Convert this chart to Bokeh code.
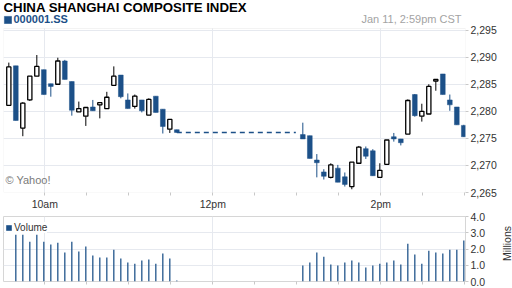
import math
from bokeh.plotting import figure
from bokeh.layouts import column, row
from bokeh.models import (ColumnDataSource, FixedTicker, NumeralTickFormatter, Range1d,
                          Label, Legend, LegendItem, BoxAnnotation)
from bokeh.transform import dodge
from bokeh.embed import file_html
from bokeh.resources import INLINE

# ---------------- data ----------------
title = "CHINA SHANGHAI COMPOSITE INDEX"
symbol = "000001.SS"
stamp = "Jan 11, 2:59pm CST"
credit = "© Yahoo!"
volume_label = "Volume"
unit_label = "Millions"

times = ["09:35", "09:40", "09:45", "09:50", "09:55", "10:00", "10:05", "10:10", "10:15", "10:20",
         "10:25", "10:30", "10:35", "10:40", "10:45", "10:50", "10:55", "11:00", "11:05", "11:10",
         "11:15", "11:20", "11:25", "11:30", "11:35",
         "13:05", "13:10", "13:15", "13:20", "13:25", "13:30", "13:35", "13:40", "13:45", "13:50",
         "13:55", "14:00", "14:05", "14:10", "14:15", "14:20", "14:25", "14:30", "14:35", "14:40",
         "14:45", "14:50", "14:55", "15:00"]
opens = [2281.1, 2288.4, 2276.9, 2282.1, 2286.5, 2287.7, 2285.1, 2285.0, 2289.3, 2285.5,
         2279.9, 2279.1, 2280.8, 2281.2, 2280.5, 2284.8, 2286.7, 2282.1, 2280.9, 2282.1,
         2279.3, 2282.8, 2280.4, 2276.7, 2276.6,
         2275.7, 2275.5, 2271.0, 2268.8, 2267.8, 2269.5, 2267.9, 2266.1, 2270.4, 2273.1,
         2272.7, 2267.8, 2270.2, 2275.3, 2274.9, 2275.8, 2283.1, 2279.1, 2279.5, 2285.6,
         2286.9, 2282.1, 2280.8, 2277.4]
highs = [2289.0, 2288.4, 2281.7, 2286.5, 2290.4, 2287.7, 2285.1, 2289.9, 2289.5, 2285.5,
         2281.8, 2280.8, 2282.1, 2281.6, 2283.6, 2288.3, 2286.7, 2283.3, 2283.1, 2282.1,
         2282.4, 2282.8, 2280.4, 2278.5, 2276.6,
         2277.9, 2275.5, 2272.1, 2269.3, 2270.4, 2270.1, 2268.7, 2270.6, 2273.6, 2273.5,
         2273.0, 2270.4, 2274.7, 2276.0, 2274.9, 2282.2, 2283.2, 2281.4, 2285.0, 2285.9,
         2286.9, 2283.1, 2280.8, 2277.5]
lows = [2281.1, 2278.3, 2275.4, 2281.9, 2286.5, 2283.1, 2282.7, 2285.0, 2285.9, 2279.2,
        2279.9, 2277.3, 2280.1, 2278.7, 2280.5, 2284.8, 2282.4, 2280.5, 2280.5, 2279.8,
        2279.3, 2279.8, 2275.9, 2276.0, 2276.1,
        2274.9, 2271.3, 2267.8, 2267.4, 2267.6, 2266.9, 2266.1, 2265.6, 2270.4, 2271.2,
        2268.1, 2267.8, 2270.2, 2274.4, 2273.7, 2275.8, 2279.0, 2278.1, 2279.5, 2283.8,
        2283.1, 2280.1, 2277.5, 2275.3]
closes = [2288.2, 2278.3, 2281.5, 2286.5, 2288.3, 2283.1, 2284.6, 2289.3, 2285.9, 2280.2,
          2280.5, 2280.7, 2280.1, 2281.6, 2282.6, 2286.5, 2282.7, 2280.5, 2282.8, 2280.1,
          2282.2, 2279.8, 2277.2, 2278.5, 2276.1,
          2274.9, 2271.3, 2270.5, 2268.0, 2270.1, 2266.9, 2266.5, 2270.6, 2273.4, 2271.7,
          2268.1, 2269.1, 2274.7, 2274.9, 2274.2, 2282.0, 2279.2, 2280.0, 2284.6, 2285.9,
          2283.1, 2281.2, 2277.5, 2275.3]
volumes = [0.0, 2.88, 2.88, 2.45, 2.88, 2.45, 2.27, 2.39, 1.78, 2.45,
           1.84, 2.15, 1.60, 1.47, 1.47, 1.96, 1.41, 1.17, 1.10, 1.29,
           1.35, 1.10, 1.72, 1.41, 0.06,
           0.98, 1.17, 1.78, 1.53, 1.04, 0.98, 1.17, 1.29, 1.17, 0.86,
           0.98, 1.10, 1.17, 1.29, 1.04, 2.33, 1.66, 1.10, 1.90, 1.78,
           1.72, 1.96, 1.96, 2.52]
lunch_end = "13:00"

session = ["09:30", "15:00"]
major_times = ["10:00", "12:00", "14:00"]
major_labels = ["10am", "12pm", "2pm"]
minor_times = ["09:30", "10:30", "11:00", "11:30", "12:30", "13:00", "13:30", "14:30", "15:00"]
price_ticks = [2265, 2270, 2275, 2280, 2285, 2290, 2295]
price_span = [2265, 2295.3]
volume_ticks = [0, 1, 2, 3, 4]

# ---------------- styling ----------------
BLUE = "#1c5088"
GRID = "#e6e9ef"
BORDER = "#d6d6d6"
TICK = "#c8c8c8"
FONT = "Liberation Sans"
LABEL_COLOR = "#333333"
HEADER_PX = 28
PRICE_PX = 164
TOP_PX = HEADER_PX + PRICE_PX


def to_min(s):
    return int(s[:2]) * 60 + int(s[3:])


t = [to_min(s) for s in times]
up = [c >= o for o, c in zip(opens, closes)]

src_all = ColumnDataSource(dict(
    t=t, low=lows, high=highs,
    wick=["#000000" if u else BLUE for u in up],
))
src_up = ColumnDataSource(dict(
    t=[ti for ti, u in zip(t, up) if u],
    top=[c for c, u in zip(closes, up) if u],
    bottom=[o for o, u in zip(opens, up) if u],
))
src_dn = ColumnDataSource(dict(
    t=[ti for ti, u in zip(t, up) if not u],
    top=[o for o, u in zip(opens, up) if not u],
    bottom=[c for c, u in zip(closes, up) if not u],
))
src_vol = ColumnDataSource(dict(t=t, vol=volumes))
src_gap = ColumnDataSource(dict(t=[t[24], to_min(lunch_end)], y=[closes[24], closes[24]]))

x_range = Range1d(to_min(session[0]) + 0.5, to_min(session[1]) + 0.5)
# the frame of the price figure also holds the header strip above the price area
y_top = price_span[1] + HEADER_PX * (price_span[1] - price_span[0]) / PRICE_PX
y_range = Range1d(price_span[0], y_top)

major = [to_min(s) for s in major_times]
minor = [to_min(s) for s in minor_times]

# ---------------- price panel (with header) ----------------
p1 = figure(width=512, height=TOP_PX + 20, x_range=x_range, y_range=y_range,
            title=None, output_backend="svg", toolbar_location=None, y_axis_location="right",
            min_border_left=3, min_border_right=47, min_border_top=0, min_border_bottom=20)
p1.outline_line_color = None

xd = dodge("t", -0.7, range=x_range)
p1.segment(x0=xd, y0="low", x1=xd, y1="high", line_color="wick", line_width=1, source=src_all)
dn = p1.vbar(x=xd, width=3.4, top="top", bottom="bottom", fill_color=BLUE,
             line_color=BLUE, line_width=0.5, source=src_dn)
p1.vbar(x=xd, width=3.0, top="top", bottom="bottom", fill_color="white",
        line_color="black", line_width=1.3, source=src_up)
p1.line(x=xd, y="y", line_color=BLUE, line_width=1.5, line_dash="5 4", source=src_gap)

p1.add_layout(BoxAnnotation(left=x_range.start, right=x_range.end,
                            bottom=price_span[0], top=price_span[1],
                            fill_alpha=0, line_color=BORDER, line_width=1, level="underlay"))

p1.xaxis.ticker = FixedTicker(ticks=major, minor_ticks=minor)
p1.xaxis.major_label_overrides = {m: l for m, l in zip(major, major_labels)}
p1.xgrid.cross_bounds = (price_span[0], price_span[1])
p1.yaxis.ticker = FixedTicker(ticks=price_ticks)
p1.yaxis.formatter = NumeralTickFormatter(format="0,0")

p1.add_layout(Label(x=0, y=TOP_PX - 6.7, x_units="screen", y_units="screen",
                    text=title, text_font=FONT, text_font_size="13.25px",
                    text_font_style="bold", text_color="#000000", text_align="left",
                    text_baseline="middle"))
p1.add_layout(Label(x=458, y=TOP_PX - 18, x_units="screen", y_units="screen",
                    text=stamp, text_font=FONT, text_font_size="11px", text_color="#a3a3a3",
                    text_align="right", text_baseline="middle"))
p1.add_layout(Label(x=2, y=TOP_PX - 179.5, x_units="screen", y_units="screen", text=credit,
                    text_font=FONT, text_font_size="11px", text_color="#7a7a7a",
                    text_align="left", text_baseline="middle"))

leg1 = Legend(items=[LegendItem(label=symbol, renderers=[dn])],
              location=(-0.5, TOP_PX - 25),
              padding=0, margin=0, spacing=0, glyph_width=9, glyph_height=9,
              label_standoff=2, label_height=9, label_width=10,
              border_line_color=None, background_fill_alpha=0,
              label_text_font=FONT, label_text_font_size="11px",
              label_text_font_style="bold", label_text_color=BLUE)
p1.add_layout(leg1)

# ---------------- volume panel ----------------
p2 = figure(width=500, height=76, x_range=x_range, y_range=Range1d(0, 4), title=None,
            output_backend="svg", toolbar_location=None, y_axis_location="right",
            min_border_left=3, min_border_right=35, min_border_top=4, min_border_bottom=7)
p2.outline_line_color = BORDER
vb = p2.vbar(x=xd, width=0.9, top="vol", bottom=0, fill_color=BLUE, line_color=None,
             source=src_vol)
p2.xaxis.ticker = FixedTicker(ticks=[], minor_ticks=major + minor)
p2.xgrid.ticker = FixedTicker(ticks=major)
p2.yaxis.ticker = FixedTicker(ticks=volume_ticks)
p2.yaxis.formatter = NumeralTickFormatter(format="0.0")

for p in (p1, p2):
    p.background_fill_color = "white"
    p.border_fill_color = "white"
    p.grid.grid_line_color = GRID
    for ax in p.axis:
        ax.axis_line_color = None
        ax.major_tick_line_color = TICK
        ax.minor_tick_line_color = TICK
        ax.major_tick_in = 0
        ax.major_tick_out = 3
        ax.minor_tick_in = 0
        ax.minor_tick_out = 3
        ax.major_label_text_font = FONT
        ax.major_label_text_color = LABEL_COLOR
    p.yaxis.major_label_text_font_size = "10.5px"
    p.yaxis.major_label_standoff = 2
p1.xaxis.major_label_text_font_size = "10.5px"
p1.xaxis.major_label_standoff = 2

leg2 = Legend(items=[LegendItem(label=volume_label, renderers=[vb])], location=(2, 48.5),
              padding=1, margin=0, spacing=0, glyph_width=7, glyph_height=7,
              label_standoff=2, label_height=8, label_width=10,
              border_line_color=None, background_fill_color="white", background_fill_alpha=1,
              label_text_font=FONT, label_text_font_size="10px", label_text_color=LABEL_COLOR)
p2.add_layout(leg2)

# ---------------- unit strip (holds the rotated "Millions") ----------------
p3 = figure(width=12, height=76, x_range=Range1d(0, 1), y_range=Range1d(0, 1), title=None,
            x_axis_type=None, y_axis_type=None, output_backend="svg", toolbar_location=None,
            min_border_left=0, min_border_right=0, min_border_top=0, min_border_bottom=0)
p3.outline_line_color = None
p3.grid.visible = False
p3.background_fill_color = "white"
p3.border_fill_color = "white"
p3.add_layout(Label(x=6, y=38, x_units="screen", y_units="screen", text=unit_label,
                    angle=math.pi / 2, text_font=FONT, text_font_size="10.5px",
                    text_color=LABEL_COLOR, text_align="center", text_baseline="middle"))

layout = column(p1, row(p2, p3, spacing=0), spacing=0)
open("out.html", "w").write(file_html(layout, INLINE))
